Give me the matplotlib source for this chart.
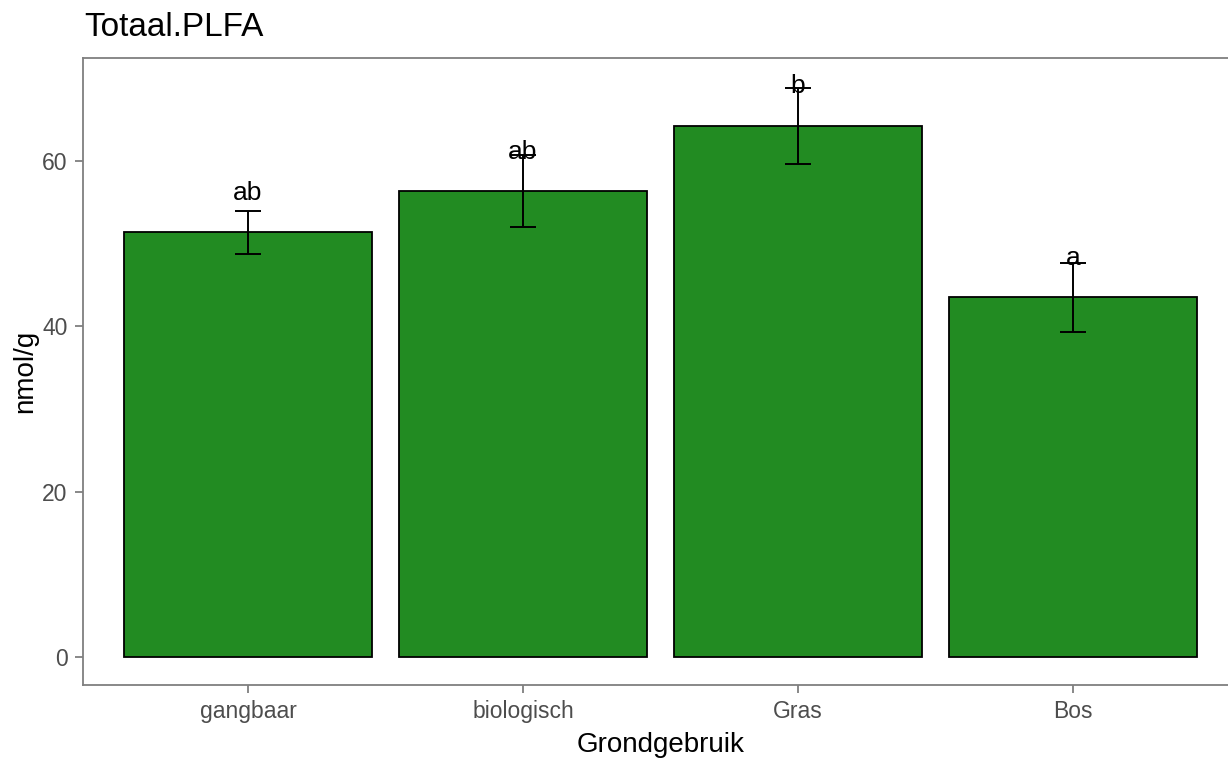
import matplotlib.pyplot as plt
import numpy as np

# Totaal PLFA per grondgebruik: mean, standard error band and letter groups
categories = ["gangbaar", "biologisch", "Gras", "Bos"]
means = [51.4, 56.4, 64.2, 43.5]
upper = [53.95, 60.7, 68.8, 47.7]
lower = [48.75, 52.0, 59.6, 39.3]
letters = ["ab", "ab", "b", "a"]
letter_y = [56.1, 61.1, 69.1, 48.3]

plt.rcParams['font.family'] = ['Liberation Sans', 'DejaVu Sans']

fig = plt.figure(figsize=(12.28, 7.62), dpi=100)
ax = fig.add_axes([83 / 1228, 77 / 762, 1155 / 1228, 627 / 762])

x = np.arange(1, len(categories) + 1)
ax.bar(x, means, width=0.9, color="#228B22", edgecolor="black", linewidth=1.3, zorder=2)

err_low = np.array(means) - np.array(lower)
err_high = np.array(upper) - np.array(means)
ax.errorbar(x, means, yerr=[err_low, err_high], fmt="none", ecolor="black",
            elinewidth=1.4, capsize=9.4, capthick=1.4, zorder=3)

for xi, yi, lab in zip(x, letter_y, letters):
    ax.text(xi, yi, lab, ha="center", va="center", fontsize=19, color="black", zorder=4)

ax.set_xlim(0.4, 4.6)
ax.set_ylim(-3.39, 72.46)
ax.set_xticks(x)
ax.set_xticklabels(categories)
ax.set_yticks([0, 20, 40, 60])

for side in ["left", "top", "bottom"]:
    ax.spines[side].set_color("#7f7f7f")
    ax.spines[side].set_linewidth(1.3)
# the panel runs past the right edge of the figure, so no right border shows
ax.spines["right"].set_visible(False)
ax.tick_params(axis="both", colors="#7f7f7f", length=6, width=1.3, labelsize=16.5,
               labelcolor="#4d4d4d", pad=5)

ax.set_xlabel("Grondgebruik", fontsize=20, color="black", labelpad=6)
ax.set_ylabel("nmol/g", fontsize=20, color="black", labelpad=3)
fig.text(84 / 1228, 1 - 28 / 762, "Totaal.PLFA", fontsize=24, ha="left", va="center")

fig.savefig("out.png", dpi=100)
